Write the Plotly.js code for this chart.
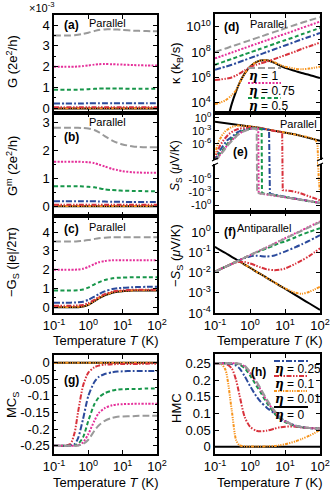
<!DOCTYPE html>
<html>
<head>
<meta charset="utf-8">
<script src="https://cdn.plot.ly/plotly-3.0.1.min.js"></script>
<style>
  html, body { margin: 0; padding: 0; background: #fff; }
  #plot { width: 332px; height: 490px; }
</style>
</head>
<body>
<div id="plot"></div>
<script>
// Temperature grid (K) shared by panels a-d, f-h
const T = [0.1, 0.15, 0.2, 0.3, 0.4, 0.5, 0.7, 1, 1.5, 2, 3, 5, 7, 10, 20, 30, 50, 100];

// (a) G in units of 1e-3 (2e^2/h)
const G_eta1   = [3.5, 3.5, 3.5, 3.5, 3.51, 3.53, 3.57, 3.63, 3.71, 3.76, 3.79, 3.79, 3.78, 3.76, 3.73, 3.72, 3.71, 3.7];
const G_eta075 = [2.0, 2.0, 2.0, 2.0, 2.0, 2.01, 2.03, 2.06, 2.1, 2.12, 2.13, 2.12, 2.11, 2.1, 2.08, 2.07, 2.06, 2.06];
const G_eta05  = [0.9, 0.9, 0.9, 0.9, 0.9, 0.9, 0.91, 0.92, 0.94, 0.95, 0.95, 0.95, 0.95, 0.95, 0.94, 0.94, 0.94, 0.94];
const G_eta025 = [0.24, 0.24, 0.24, 0.24, 0.24, 0.24, 0.24, 0.25, 0.25, 0.25, 0.25, 0.25, 0.25, 0.25, 0.25, 0.25, 0.25, 0.25];
const G_eta01  = [0.06, 0.06, 0.06, 0.06, 0.06, 0.06, 0.06, 0.06, 0.06, 0.06, 0.06, 0.06, 0.06, 0.06, 0.06, 0.06, 0.06, 0.06];
const G_eta001 = [0.01, 0.01, 0.01, 0.01, 0.01, 0.01, 0.01, 0.01, 0.01, 0.01, 0.01, 0.01, 0.01, 0.01, 0.01, 0.01, 0.01, 0.01];
const G_eta0   = [0, 0, 0, 0, 0, 0, 0, 0, 0, 0, 0, 0, 0, 0, 0, 0, 0, 0];

// (b) G^m (2e^2/h)
const Gm_eta1   = [2.82, 2.82, 2.82, 2.82, 2.82, 2.82, 2.81, 2.79, 2.74, 2.66, 2.52, 2.36, 2.28, 2.22, 2.15, 2.13, 2.12, 2.12];
const Gm_eta075 = [1.6, 1.6, 1.6, 1.6, 1.6, 1.6, 1.59, 1.58, 1.55, 1.5, 1.43, 1.34, 1.3, 1.26, 1.22, 1.21, 1.2, 1.2];
const Gm_eta05  = [0.72, 0.72, 0.72, 0.72, 0.72, 0.72, 0.71, 0.7, 0.68, 0.65, 0.61, 0.58, 0.57, 0.56, 0.55, 0.55, 0.54, 0.54];
const Gm_eta025 = [0.18, 0.18, 0.18, 0.18, 0.18, 0.18, 0.18, 0.18, 0.18, 0.17, 0.17, 0.16, 0.16, 0.16, 0.15, 0.15, 0.15, 0.15];
const Gm_eta01  = [0.05, 0.05, 0.05, 0.05, 0.05, 0.05, 0.05, 0.05, 0.05, 0.05, 0.05, 0.05, 0.05, 0.05, 0.05, 0.05, 0.05, 0.05];
const Gm_eta001 = [0.01, 0.01, 0.01, 0.01, 0.01, 0.01, 0.01, 0.01, 0.01, 0.01, 0.01, 0.01, 0.01, 0.01, 0.01, 0.01, 0.01, 0.01];
const Gm_eta0   = [0, 0, 0, 0, 0, 0, 0, 0, 0, 0, 0, 0, 0, 0, 0, 0, 0, 0];

// (c) -G_S (|e|/2pi)
const Gs_eta1   = [3.5, 3.5, 3.5, 3.5, 3.5, 3.51, 3.53, 3.57, 3.63, 3.67, 3.7, 3.72, 3.72, 3.72, 3.72, 3.72, 3.72, 3.72];
const Gs_eta075 = [2.0, 2.0, 2.0, 2.0, 2.0, 2.01, 2.05, 2.15, 2.3, 2.39, 2.46, 2.5, 2.5, 2.5, 2.5, 2.5, 2.5, 2.5];
const Gs_eta05  = [0.9, 0.9, 0.9, 0.9, 0.9, 0.91, 0.95, 1.05, 1.22, 1.33, 1.45, 1.54, 1.57, 1.58, 1.6, 1.6, 1.6, 1.6];
const Gs_eta025 = [0.25, 0.25, 0.25, 0.25, 0.26, 0.27, 0.3, 0.4, 0.57, 0.7, 0.85, 0.97, 1.01, 1.04, 1.07, 1.08, 1.09, 1.09];
const Gs_eta01  = [0.08, 0.08, 0.08, 0.08, 0.09, 0.1, 0.13, 0.22, 0.4, 0.54, 0.7, 0.83, 0.88, 0.9, 0.93, 0.94, 0.94, 0.94];
const Gs_eta001 = [0.02, 0.02, 0.02, 0.02, 0.02, 0.03, 0.05, 0.14, 0.34, 0.49, 0.65, 0.79, 0.84, 0.87, 0.9, 0.91, 0.91, 0.91];
const Gs_eta0   = [0, 0, 0, 0, 0, 0.01, 0.04, 0.13, 0.33, 0.48, 0.64, 0.78, 0.83, 0.86, 0.89, 0.9, 0.9, 0.9];

// (d) kappa (k_B/s), log10 values
const kap_eta1   = [8.0, 8.17, 8.28, 8.45, 8.56, 8.65, 8.79, 8.93, 9.1, 9.21, 9.38, 9.59, 9.72, 9.87, 10.15, 10.31, 10.5, 10.75];
const kap_eta075 = [7.5, 7.67, 7.79, 7.96, 8.08, 8.18, 8.32, 8.47, 8.64, 8.76, 8.93, 9.14, 9.29, 9.43, 9.72, 9.9, 10.11, 10.4];
const kap_eta05  = [7.0, 7.17, 7.29, 7.46, 7.58, 7.68, 7.82, 7.97, 8.14, 8.26, 8.43, 8.64, 8.79, 8.93, 9.22, 9.4, 9.61, 9.9];
const kap_eta025 = [6.6, 6.75, 6.85, 7.0, 7.12, 7.22, 7.37, 7.52, 7.7, 7.82, 8.0, 8.22, 8.37, 8.52, 8.82, 9.0, 9.21, 9.5];
const kap_eta01  = [5.8, 5.85, 5.9, 6.0, 6.15, 6.3, 6.55, 6.8, 7.0, 7.1, 7.25, 7.45, 7.6, 7.75, 8.05, 8.25, 8.45, 8.75];
const kap_eta001 = [3.9, 4.05, 4.2, 4.6, 5.0, 5.55, 6.3, 6.85, 7.2, 7.33, 7.36, 7.2, 7.0, 6.85, 6.68, 6.65, 6.7, 6.85];
const kap_eta0   = [-2, 0.5, 2.0, 3.9, 4.9, 5.55, 6.3, 6.85, 7.2, 7.33, 7.35, 7.15, 6.95, 6.75, 6.5, 6.35, 6.2, 5.95];

// (e) S_S (muV/K), parallel: each curve on its own temperature list
const eT_eta1   = [0.1, 0.13, 0.18, 0.25, 0.32, 0.45, 0.62, 0.85, 1.1, 1.4, 1.55, 1.6, 2.5, 5, 10, 20, 50, 100];
const eS_eta1   = [0, 1e-9, 3e-8, 1e-6, 8e-6, 1.2e-4, 6e-4, 2e-3, 3.5e-3, 3.5e-3, 2.5e-3, -1.8e-3, -2.5e-3, -5e-3, -1.5e-2, -4e-2, -0.12, -0.35];
const eT_eta075 = [0.1, 0.13, 0.18, 0.25, 0.32, 0.45, 0.62, 0.85, 1.1, 1.5, 1.72, 1.77, 2.5, 5, 10, 20, 50, 100];
const eS_eta075 = [0, 2e-9, 5e-8, 1.5e-6, 1e-5, 1.5e-4, 7e-4, 2.2e-3, 3.6e-3, 3.6e-3, 2.8e-3, -2e-3, -3e-3, -6e-3, -1.6e-2, -4e-2, -0.12, -0.35];
const eT_eta05  = [0.1, 0.13, 0.18, 0.25, 0.32, 0.45, 0.62, 0.85, 1.1, 1.5, 2.0, 2.15, 2.2, 3, 5, 10, 20, 50, 100];
const eS_eta05  = [0, 4e-9, 1e-7, 3e-6, 2e-5, 2.5e-4, 1e-3, 2.6e-3, 4e-3, 4e-3, 3e-3, 2.5e-3, -1.8e-3, -3e-3, -6e-3, -1.6e-2, -4e-2, -0.12, -0.35];
const eT_eta025 = [0.1, 0.12, 0.16, 0.22, 0.3, 0.42, 0.6, 0.85, 1.2, 1.8, 2.6, 3.5, 3.7, 4.2, 6, 10, 20, 50, 100];
const eS_eta025 = [0, 5e-9, 2e-7, 6e-6, 4e-5, 4e-4, 1.5e-3, 3e-3, 4e-3, 3.8e-3, 2.5e-3, 1.7e-3, -2.5e-3, -3.5e-3, -6e-3, -1.3e-2, -3.5e-2, -0.12, -0.35];
const eT_eta01  = [0.1, 0.11, 0.14, 0.18, 0.25, 0.35, 0.5, 0.8, 1.2, 2, 3.5, 6, 8.3, 8.6, 10, 15, 25, 50, 100];
const eS_eta01  = [0, 5e-9, 5e-7, 1e-5, 2e-4, 1.2e-3, 3.5e-3, 5.5e-3, 6e-3, 4e-3, 1.5e-3, 7e-4, 4.5e-4, -4e-4, -4.5e-4, -6e-4, -1.5e-3, -1e-2, -8e-2];
const eT_eta001 = [0.1, 0.11, 0.13, 0.16, 0.2, 0.3, 0.45, 0.7, 1, 2, 4, 10, 20, 40, 60, 75, 85, 92, 100];
const eS_eta001 = [0, 1e-7, 5e-6, 1e-4, 1e-3, 8e-3, 0.018, 0.017, 0.011, 4.7e-3, 1.8e-3, 4.2e-4, 1.4e-4, 4.5e-5, 2e-5, 8e-6, 1e-6, -1e-6, -1.5e-3];
const eT_eta0   = [0.1, 0.2, 0.3, 0.5, 1, 2, 3, 5, 10, 20, 30, 50, 100];
const eS_eta0   = [0.126, 0.06, 0.04, 0.022, 0.01, 4.5e-3, 2.2e-3, 1.1e-3, 4e-4, 1.4e-4, 6.3e-5, 2.5e-5, 5.6e-6];

// (f) -S_S (muV/K), antiparallel, log10 values
const mS_eta1   = [-1.96, -1.81, -1.71, -1.57, -1.47, -1.39, -1.26, -1.14, -0.99, -0.89, -0.75, -0.57, -0.44, -0.32, -0.07, 0.07, 0.25, 0.5];
const mS_eta075 = [-1.96, -1.81, -1.71, -1.57, -1.47, -1.39, -1.26, -1.14, -0.99, -0.89, -0.75, -0.56, -0.43, -0.3, -0.05, 0.09, 0.28, 0.53];
const mS_eta05  = [-1.96, -1.81, -1.71, -1.57, -1.47, -1.39, -1.26, -1.14, -1.0, -0.92, -0.8, -0.65, -0.54, -0.46, -0.25, -0.12, 0.02, 0.2];
const mS_eta025 = [-1.96, -1.81, -1.71, -1.57, -1.45, -1.38, -1.28, -1.2, -1.16, -1.18, -1.2, -1.15, -1.06, -0.96, -0.74, -0.6, -0.42, -0.15];
const mS_eta01  = [-1.96, -1.81, -1.71, -1.58, -1.5, -1.47, -1.48, -1.55, -1.66, -1.74, -1.84, -1.88, -1.86, -1.8, -1.56, -1.4, -1.17, -0.8];
const mS_eta001 = [-1.96, -1.81, -1.71, -1.56, -1.45, -1.45, -1.6, -1.76, -1.95, -2.07, -2.26, -2.48, -2.64, -2.78, -3.0, -3.05, -2.95, -2.7];
const mS_eta0   = [-0.72, -0.91, -1.03, -1.22, -1.34, -1.45, -1.6, -1.76, -1.95, -2.07, -2.26, -2.49, -2.64, -2.8, -3.11, -3.3, -3.53, -3.85];

// (g) MC_S
const MC_eta1   = [-0.25, -0.25, -0.25, -0.25, -0.25, -0.25, -0.245, -0.232, -0.205, -0.189, -0.175, -0.166, -0.163, -0.162, -0.161, -0.16, -0.16, -0.16];
const MC_eta075 = [-0.25, -0.25, -0.25, -0.25, -0.25, -0.249, -0.24, -0.215, -0.175, -0.152, -0.137, -0.128, -0.126, -0.125, -0.124, -0.124, -0.124, -0.124];
const MC_eta05  = [-0.25, -0.25, -0.25, -0.25, -0.249, -0.245, -0.225, -0.175, -0.125, -0.105, -0.092, -0.084, -0.081, -0.08, -0.079, -0.079, -0.078, -0.078];
const MC_eta025 = [-0.25, -0.25, -0.25, -0.249, -0.245, -0.228, -0.17, -0.1, -0.058, -0.043, -0.034, -0.029, -0.027, -0.026, -0.025, -0.025, -0.025, -0.025];
const MC_eta01  = [-0.25, -0.25, -0.25, -0.245, -0.21, -0.15, -0.07, -0.03, -0.014, -0.009, -0.006, -0.005, -0.004, -0.004, -0.004, -0.004, -0.003, -0.003];
const MC_eta001 = [0, 0, 0, 0, 0, 0, 0, 0, 0, 0, 0, 0, 0, 0, 0, 0, 0, 0];
const MC_eta0   = [0, 0, 0, 0, 0, 0, 0, 0, 0, 0, 0, 0, 0, 0, 0, 0, 0, 0];

// (h) HMC
const HMC_eta1   = [0.25, 0.25, 0.25, 0.25, 0.25, 0.249, 0.243, 0.225, 0.197, 0.175, 0.142, 0.108, 0.09, 0.077, 0.063, 0.059, 0.056, 0.054];
const HMC_eta075 = [0.25, 0.25, 0.25, 0.25, 0.25, 0.248, 0.241, 0.222, 0.193, 0.171, 0.138, 0.105, 0.088, 0.076, 0.062, 0.058, 0.056, 0.054];
const HMC_eta05  = [0.25, 0.25, 0.25, 0.25, 0.249, 0.246, 0.236, 0.214, 0.184, 0.163, 0.132, 0.1, 0.085, 0.074, 0.061, 0.058, 0.056, 0.054];
const HMC_eta025 = [0.25, 0.25, 0.25, 0.248, 0.243, 0.235, 0.212, 0.182, 0.152, 0.135, 0.117, 0.1, 0.087, 0.077, 0.063, 0.059, 0.056, 0.054];
const HMC_eta01  = [0.25, 0.25, 0.249, 0.235, 0.2, 0.155, 0.09, 0.06, 0.048, 0.046, 0.048, 0.054, 0.058, 0.06, 0.06, 0.058, 0.056, 0.054];
const HMC_eta001 = [0.25, 0.248, 0.23, 0.11, 0.02, 0.004, 0.001, 0.0005, 0.0005, 0.0007, 0.001, 0.002, 0.004, 0.007, 0.016, 0.023, 0.033, 0.05];
const HMC_eta0   = [0, 0, 0, 0, 0, 0, 0, 0, 0, 0, 0, 0, 0, 0, 0, 0, 0, 0];

const etaLabels = ['1', '0.75', '0.5', '0.25', '0.1', '0.01', '0'];
const colors = ['#9a9a9a', '#e5309a', '#17964a', '#2b4a9c', '#d8323c', '#f7941d', '#000000'];
const dashes = ['7px,3px', '2px,1.5px', '4px,2.5px', '6px,2px,2px,2px', '5px,1.5px,1.5px,1.5px,1.5px,1.5px',
                '3px,1.2px,1.2px,1.2px,1.2px,1.2px,1.2px,1.2px', 'solid'];

const FONT = 'Liberation Sans, Arial, sans-serif';
const pow10 = v => Math.pow(10, v);
// broken symmetric log scale used in panel (e)
const symlog = s => s === 0 ? 0 : Math.sign(s) * Math.max(0, Math.log10(Math.abs(s)) + 10);

const traces = [];
function addCurves(xa, ya, xs, ys, shape) {
    // black (eta = 0) first so the coloured curves sit on top
    for (let k = ys.length - 1; k >= 0; k--) {
        traces.push({
            x: Array.isArray(xs[0]) ? xs[k] : xs, y: ys[k], xaxis: xa, yaxis: ya,
            type: 'scatter', mode: 'lines', hoverinfo: 'skip',
            line: { color: colors[k], dash: dashes[k], width: 2, shape: shape || 'spline', smoothing: 0.7 }
        });
    }
}

addCurves('x', 'y', T, [G_eta1, G_eta075, G_eta05, G_eta025, G_eta01, G_eta001, G_eta0]);
addCurves('x2', 'y2', T, [Gm_eta1, Gm_eta075, Gm_eta05, Gm_eta025, Gm_eta01, Gm_eta001, Gm_eta0]);
addCurves('x3', 'y3', T, [Gs_eta1, Gs_eta075, Gs_eta05, Gs_eta025, Gs_eta01, Gs_eta001, Gs_eta0]);
addCurves('x4', 'y4', T, [MC_eta1, MC_eta075, MC_eta05, MC_eta025, MC_eta01, MC_eta001, MC_eta0]);
addCurves('x5', 'y5', T, [kap_eta1, kap_eta075, kap_eta05, kap_eta025, kap_eta01, kap_eta001, kap_eta0].map(a => a.map(pow10)));
addCurves('x6', 'y6',
    [eT_eta1, eT_eta075, eT_eta05, eT_eta025, eT_eta01, eT_eta001, eT_eta0],
    [eS_eta1, eS_eta075, eS_eta05, eS_eta025, eS_eta01, eS_eta001, eS_eta0].map(a => a.map(symlog)), 'linear');
addCurves('x7', 'y7', T, [mS_eta1, mS_eta075, mS_eta05, mS_eta025, mS_eta01, mS_eta001, mS_eta0].map(a => a.map(pow10)));
addCurves('x8', 'y8', T, [HMC_eta1, HMC_eta075, HMC_eta05, HMC_eta025, HMC_eta01, HMC_eta001, HMC_eta0]);

// page pixel -> paper helpers (margins are zero)
const W = 332, H = 490;
const px = x => x / W;
const py = y => 1 - y / H;

const LEFT = [px(54), px(157)];
const RIGHT = [px(215), px(320)];

function xAxis(domain, anchor, labels) {
    return {
        type: 'log', range: [-1, 2], domain: domain, anchor: anchor,
        showline: true, linewidth: 1.6, linecolor: '#000', mirror: 'ticks',
        ticks: 'inside', ticklen: 4, tickwidth: 1, tickcolor: '#000',
        tickmode: 'array', tickvals: [0.1, 1, 10, 100],
        ticktext: ['10<sup>-1</sup>', '10<sup>0</sup>', '10<sup>1</sup>', '10<sup>2</sup>'],
        showticklabels: labels, showgrid: false, zeroline: false,
        tickfont: { family: FONT, size: 13, color: '#000' }
    };
}

function yAxis(domain, anchor, extra) {
    return Object.assign({
        domain: domain, anchor: anchor,
        showline: true, linewidth: 1.6, linecolor: '#000', mirror: 'ticks',
        ticks: 'inside', ticklen: 4, tickwidth: 1, tickcolor: '#000',
        showgrid: false, zeroline: false,
        tickfont: { family: FONT, size: 13, color: '#000' }
    }, extra);
}

const minorLin = d => ({ ticks: 'inside', ticklen: 2, tickcolor: '#000', dtick: d, showgrid: false });

const layout = {
    width: W, height: H,
    margin: { l: 0, r: 0, t: 0, b: 0 },
    paper_bgcolor: '#fff', plot_bgcolor: '#fff',
    showlegend: false,
    font: { family: FONT, color: '#000' },
    xaxis:  xAxis(LEFT, 'y', false),
    xaxis2: xAxis(LEFT, 'y2', false),
    xaxis3: xAxis(LEFT, 'y3', true),
    xaxis4: xAxis(LEFT, 'y4', true),
    xaxis5: xAxis(RIGHT, 'y5', false),
    xaxis6: xAxis(RIGHT, 'y6', false),
    xaxis7: xAxis(RIGHT, 'y7', true),
    xaxis8: xAxis(RIGHT, 'y8', true),
    yaxis:  yAxis([py(113), py(15)], 'x', { range: [-0.22, 4.48], dtick: 1, tick0: 0, minor: minorLin(0.5) }),
    yaxis2: yAxis([py(216), py(113)], 'x2', { range: [-0.35, 3.35], dtick: 1, tick0: 0, minor: minorLin(0.5) }),
    yaxis3: yAxis([py(313), py(216)], 'x3', { range: [-0.3, 4.85], dtick: 1, tick0: 0, minor: minorLin(0.5) }),
    yaxis4: yAxis([py(454), py(355)], 'x4', {
        range: [-0.275, 0.023], tickmode: 'array',
        tickvals: [0, -0.05, -0.1, -0.15, -0.2, -0.25],
        ticktext: ['0', '-0.05', '-0.1', '-0.15', '-0.2', '-0.25'],
        minor: minorLin(0.025)
    }),
    yaxis5: yAxis([py(113), py(14)], 'x5', {
        type: 'log', range: [3.2, 11.0], tickmode: 'array',
        tickvals: [1e4, 1e6, 1e8, 1e10],
        ticktext: ['10<sup>4</sup>', '10<sup>6</sup>', '10<sup>8</sup>', '10<sup>10</sup>'],
        minor: { ticks: 'inside', ticklen: 2, tickcolor: '#000', tickmode: 'array', tickvals: [1e5, 1e7, 1e9] }
    }),
    yaxis6: yAxis([py(212), py(113)], 'x6', {
        range: [-11.6, 11.1], tickmode: 'array',
        tickvals: [10, 7, 4, -4, -7, -10],
        ticktext: ['10<sup>0</sup>', '10<sup>-3</sup>', '10<sup>-6</sup>', '-10<sup>-6</sup>', '-10<sup>-3</sup>', '-10<sup>0</sup>'],
        tickfont: { family: FONT, size: 11, color: '#000' }
    }),
    yaxis7: yAxis([py(313), py(212)], 'x7', {
        type: 'log', range: [-4.0, 1.0], tickmode: 'array',
        tickvals: [1e-4, 1e-3, 1e-2, 1e-1, 1],
        ticktext: ['10<sup>-4</sup>', '10<sup>-3</sup>', '10<sup>-2</sup>', '10<sup>-1</sup>', '10<sup>0</sup>']
    }),
    yaxis8: yAxis([py(454), py(354)], 'x8', {
        range: [-0.022, 0.278], tickmode: 'array',
        tickvals: [0, 0.05, 0.1, 0.15, 0.2, 0.25],
        ticktext: ['0', '0.05', '0.1', '0.15', '0.2', '0.25']
    })
};

function note(text, x, y, size, opts) {
    return Object.assign({
        text: text, xref: 'paper', yref: 'paper', x: px(x), y: py(y),
        xanchor: 'center', yanchor: 'middle', showarrow: false,
        font: { family: FONT, size: size, color: '#000' }
    }, opts || {});
}

const ETA = '<span style="font-family:DejaVu Serif"><b><i>η</i></b></span>';
const annotations = [
    note('×10<sup>-3</sup>', 42, 7, 11),
    note('<b>(a)</b>', 71, 25, 12), note('Parallel', 107, 23, 11),
    note('Parallel', 107, 122, 11), note('<b>(b)</b>', 71, 137, 12),
    note('<b>(c)</b>', 71, 229, 12), note('Parallel', 107, 227, 11),
    note('<b>(g)</b>', 71, 380, 12),
    note('<b>(d)</b>', 231, 27, 12), note('Parallel', 268, 24, 11),
    note('Parallel', 298, 124, 11), note('<b>(e)</b>', 240, 152, 12),
    note('<b>(f)</b>', 230, 232, 12), note('Antiparallel', 264, 228, 11),
    note('<b>(h)</b>', 258, 372, 12),
    note('Temperature <i>T</i> (K)', 106, 340, 13), note('Temperature <i>T</i> (K)', 106, 482, 13),
    note('Temperature <i>T</i> (K)', 270, 340, 13), note('Temperature <i>T</i> (K)', 270, 482, 13),
    note('G (2e<sup>2</sup>/h)', 12, 62, 13, { textangle: -90 }),
    note('G<sup>m</sup> (2e<sup>2</sup>/h)', 12, 166, 13, { textangle: -90 }),
    note('−G<sub>S</sub> (|e|/2π)', 12, 262, 13, { textangle: -90 }),
    note('MC<sub>S</sub>', 12, 405, 13, { textangle: -90 }),
    note('κ (k<sub>B</sub>/s)', 176, 64, 13, { textangle: -90 }),
    note('<i>S</i><sub>S</sub> (<i>μ</i>V/K)', 176, 166, 12, { textangle: -90 }),
    note('−<i>S</i><sub>S</sub> (<i>μ</i>V/K)', 176, 256, 13, { textangle: -90 }),
    note('HMC', 176, 408, 13, { textangle: -90 })
];

// legend entries: sample line above the label
const shapes = [];
function legendEntry(k, x0, x1, yLine, yText) {
    shapes.push({ type: 'line', xref: 'paper', yref: 'paper', x0: px(x0), x1: px(x1), y0: py(yLine), y1: py(yLine),
        line: { color: colors[k], dash: dashes[k], width: 2 } });
    annotations.push(note(ETA + ' = ' + etaLabels[k], x0 - 1, yText, 12, { xanchor: 'left' }));
}
legendEntry(0, 248, 281, 68, 76);
legendEntry(1, 248, 281, 83, 91);
legendEntry(2, 248, 281, 98, 106);
legendEntry(3, 274, 308, 361, 369);
legendEntry(4, 274, 308, 376, 384);
legendEntry(5, 274, 308, 391, 399);
legendEntry(6, 274, 308, 407, 415);

// axis break marks on panel (e) at the zero level
[215, 320].forEach(function (bx) {
    shapes.push({ type: 'rect', xref: 'paper', yref: 'paper', x0: px(bx - 2), x1: px(bx + 2), y0: py(164), y1: py(160),
        fillcolor: '#fff', line: { width: 0 }, layer: 'above' });
    shapes.push({ type: 'line', xref: 'paper', yref: 'paper', x0: px(bx - 3), x1: px(bx + 3), y0: py(161), y1: py(158),
        line: { color: '#000', width: 1.2 }, layer: 'above' });
    shapes.push({ type: 'line', xref: 'paper', yref: 'paper', x0: px(bx - 3), x1: px(bx + 3), y0: py(166), y1: py(163),
        line: { color: '#000', width: 1.2 }, layer: 'above' });
});

layout.annotations = annotations;
layout.shapes = shapes;

Plotly.newPlot('plot', traces, layout, { staticPlot: true, displayModeBar: false });
</script>
</body>
</html>
